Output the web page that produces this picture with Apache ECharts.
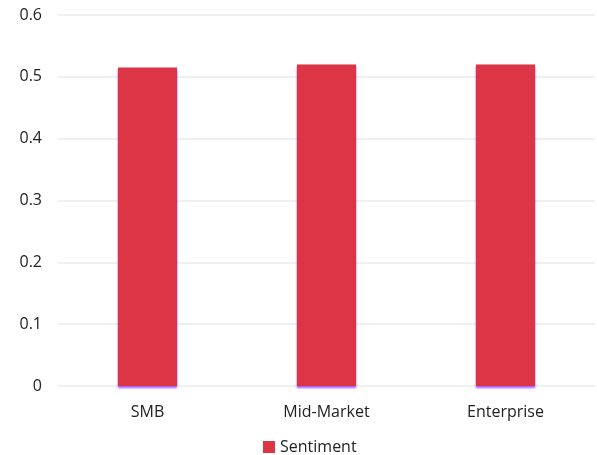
<!DOCTYPE html>
<html><head><meta charset="utf-8">
<script src="https://cdn.jsdelivr.net/npm/echarts@6/dist/echarts.min.js"></script>
<style>html,body{margin:0;padding:0;background:#fff}#c{width:597px;height:455px}</style>
</head><body><div id="c"></div>
<script>
const categories = ['SMB', 'Mid-Market', 'Enterprise'];
const sentiment = [0.515, 0.52, 0.52];
const seriesName = 'Sentiment';

const chart = echarts.init(document.getElementById('c'), null, {renderer: 'canvas'});
chart.setOption({
  animation: false,
  textStyle: {fontFamily: 'Open Sans'},
  grid: {left: 58, right: 2, top: 15, bottom: 69, containLabel: false},
  legend: {
    top: 439, left: 263, padding: 0, itemWidth: 12, itemHeight: 12, itemGap: 6,
    icon: 'rect',
    textStyle: {fontSize: 16, color: '#222', fontFamily: 'Open Sans'},
    data: [seriesName]
  },
  xAxis: {
    type: 'category', data: categories,
    axisLine: {show: false}, axisTick: {show: false},
    axisLabel: {fontSize: 16, color: '#222', margin: 18, fontFamily: 'Open Sans'}
  },
  yAxis: {
    type: 'value', min: 0, max: 0.6, interval: 0.1,
    axisLine: {show: false}, axisTick: {show: false},
    axisLabel: {fontSize: 16, color: '#222', margin: 16, fontFamily: 'Open Sans'},
    splitLine: {lineStyle: {color: '#f0f0f0', width: 2}}
  },
  series: [{
    name: seriesName, type: 'bar', data: sentiment, barWidth: '33%',
    itemStyle: {color: '#dc3545', shadowColor: 'rgba(150,60,255,0.9)', shadowBlur: 2, shadowOffsetY: 2}
  }]
});
</script></body></html>
